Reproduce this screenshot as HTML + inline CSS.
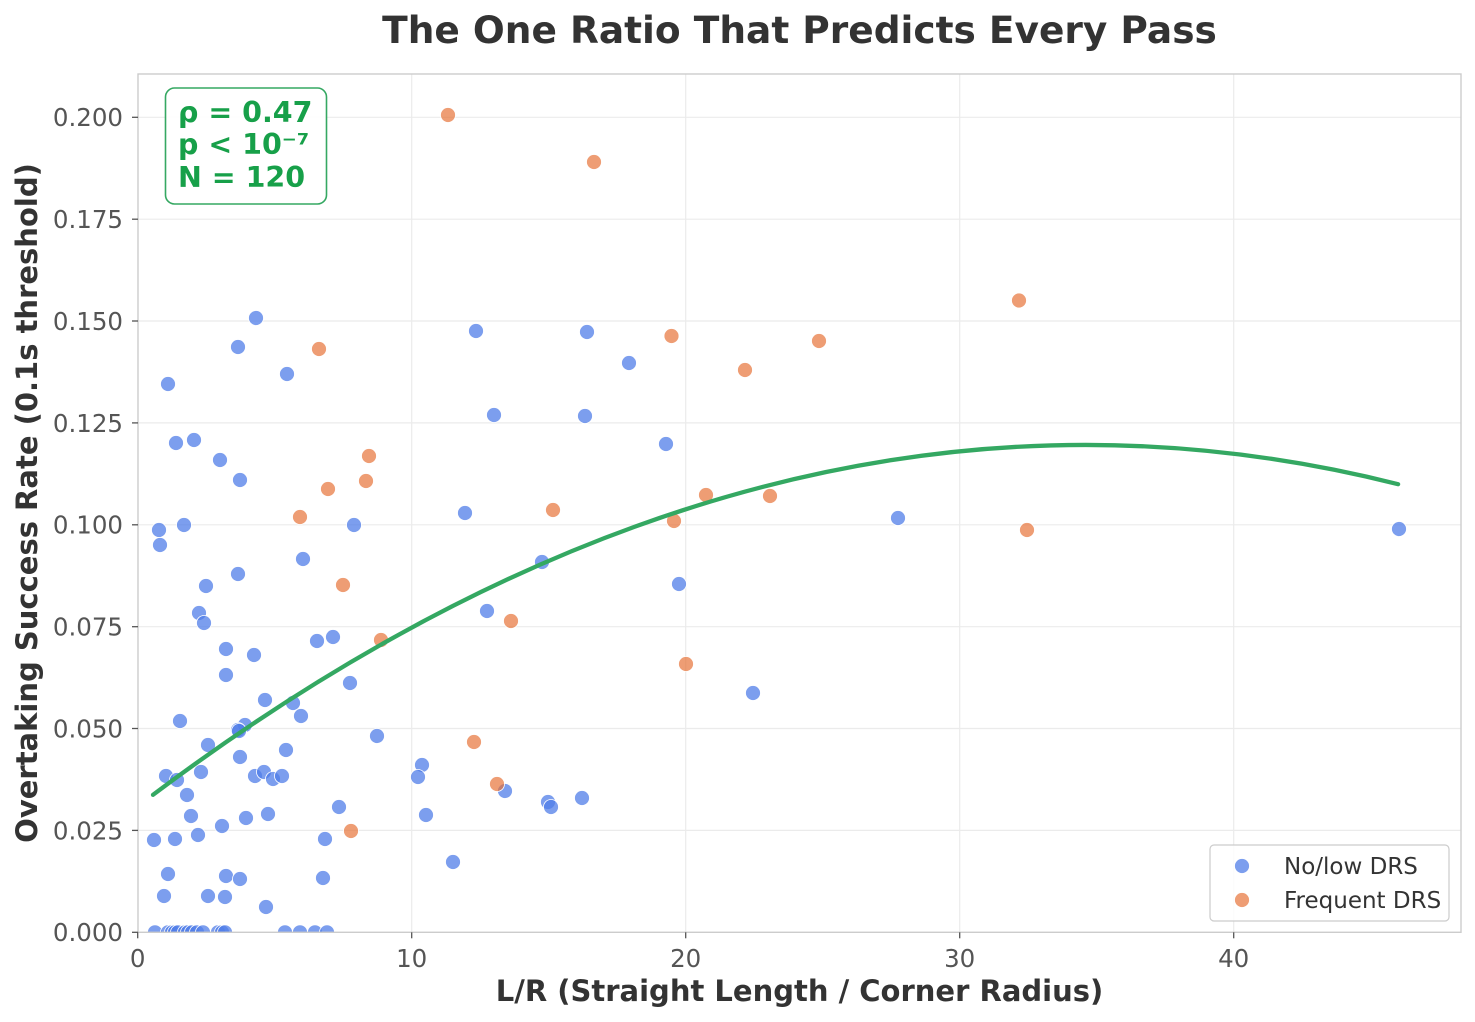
<!DOCTYPE html>
<html>
<head>
<meta charset="utf-8">
<style>
  html, body { margin: 0; padding: 0; background: #ffffff; }
  svg { display: block; }
  text { font-family: "DejaVu Sans", "Liberation Sans", sans-serif; }
</style>
</head>
<body>
<svg width="1475" height="1022" viewBox="0 0 1475 1022" xmlns="http://www.w3.org/2000/svg">
  <defs>
    <clipPath id="ax">
      <rect x="138" y="74" width="1323" height="858.3"/>
    </clipPath>
  </defs>
  <rect x="0" y="0" width="1475" height="1022" fill="#ffffff"/>

  <!-- Title -->
  <text x="799.5" y="43" text-anchor="middle" font-size="37.5" font-weight="bold" fill="#333333">The One Ratio That Predicts Every Pass</text>

  <!-- Grid -->
  <g stroke="#ebebeb" stroke-width="1.2">
    <line x1="411.7" y1="74" x2="411.7" y2="932.3"/>
    <line x1="685.7" y1="74" x2="685.7" y2="932.3"/>
    <line x1="959.7" y1="74" x2="959.7" y2="932.3"/>
    <line x1="1233.7" y1="74" x2="1233.7" y2="932.3"/>
    <line x1="138" y1="117.3" x2="1461" y2="117.3"/>
    <line x1="138" y1="219.2" x2="1461" y2="219.2"/>
    <line x1="138" y1="321.0" x2="1461" y2="321.0"/>
    <line x1="138" y1="422.9" x2="1461" y2="422.9"/>
    <line x1="138" y1="524.8" x2="1461" y2="524.8"/>
    <line x1="138" y1="626.7" x2="1461" y2="626.7"/>
    <line x1="138" y1="728.5" x2="1461" y2="728.5"/>
    <line x1="138" y1="830.4" x2="1461" y2="830.4"/>
  </g>

  <!-- Points -->
  <g clip-path="url(#ax)" stroke="#ffffff" stroke-width="0.8">
    <g fill="rgb(80,125,232)" fill-opacity="0.75">
      <circle cx="256" cy="318" r="7.5"/><circle cx="238" cy="347" r="7.5"/><circle cx="287" cy="374" r="7.5"/>
      <circle cx="168" cy="384" r="7.5"/><circle cx="176" cy="443" r="7.5"/><circle cx="194" cy="440" r="7.5"/>
      <circle cx="220" cy="460" r="7.5"/><circle cx="240" cy="480" r="7.5"/><circle cx="354" cy="525" r="7.5"/>
      <circle cx="159" cy="530" r="7.5"/><circle cx="184" cy="525" r="7.5"/><circle cx="160" cy="545" r="7.5"/>
      <circle cx="303" cy="559" r="7.5"/><circle cx="206" cy="586" r="7.5"/><circle cx="238" cy="574" r="7.5"/>
      <circle cx="199" cy="613" r="7.5"/><circle cx="204" cy="623" r="7.5"/><circle cx="226" cy="649" r="7.5"/>
      <circle cx="254" cy="655" r="7.5"/><circle cx="226" cy="675" r="7.5"/><circle cx="317" cy="641" r="7.5"/>
      <circle cx="333" cy="637" r="7.5"/><circle cx="350" cy="683" r="7.5"/><circle cx="180" cy="721" r="7.5"/>
      <circle cx="265" cy="700" r="7.5"/><circle cx="293" cy="703" r="7.5"/><circle cx="301" cy="716" r="7.5"/>
      <circle cx="245" cy="725" r="7.5"/><circle cx="238" cy="730" r="7.5"/><circle cx="239" cy="731" r="7.5"/>
      <circle cx="377" cy="736" r="7.5"/><circle cx="208" cy="745" r="7.5"/><circle cx="286" cy="750" r="7.5"/>
      <circle cx="240" cy="757" r="7.5"/><circle cx="166" cy="776" r="7.5"/><circle cx="177" cy="780" r="7.5"/>
      <circle cx="201" cy="772" r="7.5"/><circle cx="255" cy="776" r="7.5"/><circle cx="264" cy="772" r="7.5"/>
      <circle cx="273" cy="779" r="7.5"/><circle cx="282" cy="776" r="7.5"/><circle cx="187" cy="795" r="7.5"/>
      <circle cx="191" cy="816" r="7.5"/><circle cx="222" cy="826" r="7.5"/><circle cx="246" cy="818" r="7.5"/>
      <circle cx="268" cy="814" r="7.5"/><circle cx="339" cy="807" r="7.5"/><circle cx="154" cy="840" r="7.5"/>
      <circle cx="175" cy="839" r="7.5"/><circle cx="198" cy="835" r="7.5"/><circle cx="325" cy="839" r="7.5"/>
      <circle cx="168" cy="874" r="7.5"/><circle cx="226" cy="876" r="7.5"/><circle cx="240" cy="879" r="7.5"/>
      <circle cx="323" cy="878" r="7.5"/><circle cx="164" cy="896" r="7.5"/><circle cx="208" cy="896" r="7.5"/>
      <circle cx="225" cy="897" r="7.5"/><circle cx="266" cy="907" r="7.5"/>
      <circle cx="155" cy="932.3" r="7.5"/><circle cx="168" cy="932.3" r="7.5"/><circle cx="172" cy="932.3" r="7.5"/>
      <circle cx="175" cy="932.3" r="7.5"/><circle cx="178" cy="932.3" r="7.5"/><circle cx="185" cy="932.3" r="7.5"/>
      <circle cx="188" cy="932.3" r="7.5"/><circle cx="192" cy="932.3" r="7.5"/><circle cx="197" cy="932.3" r="7.5"/>
      <circle cx="203" cy="932.3" r="7.5"/><circle cx="218" cy="932.3" r="7.5"/><circle cx="222" cy="932.3" r="7.5"/>
      <circle cx="225" cy="932.3" r="7.5"/><circle cx="285" cy="932.3" r="7.5"/><circle cx="300" cy="932.3" r="7.5"/>
      <circle cx="315" cy="932.3" r="7.5"/><circle cx="327" cy="932.3" r="7.5"/>
      <circle cx="476" cy="331" r="7.5"/><circle cx="587" cy="332" r="7.5"/><circle cx="629" cy="363" r="7.5"/>
      <circle cx="494" cy="415" r="7.5"/><circle cx="585" cy="416" r="7.5"/><circle cx="666" cy="444" r="7.5"/>
      <circle cx="465" cy="513" r="7.5"/><circle cx="542" cy="562" r="7.5"/><circle cx="679" cy="584" r="7.5"/>
      <circle cx="487" cy="611" r="7.5"/><circle cx="753" cy="693" r="7.5"/><circle cx="422" cy="765" r="7.5"/>
      <circle cx="418" cy="777" r="7.5"/><circle cx="505" cy="791" r="7.5"/><circle cx="548" cy="802" r="7.5"/>
      <circle cx="551" cy="807" r="7.5"/><circle cx="582" cy="798" r="7.5"/><circle cx="426" cy="815" r="7.5"/>
      <circle cx="453" cy="862" r="7.5"/>
      <circle cx="898" cy="518" r="7.5"/><circle cx="1399" cy="529" r="7.5"/>
    </g>
    <g fill="rgb(230,110,50)" fill-opacity="0.68">
      <circle cx="448" cy="115" r="7.5"/><circle cx="594" cy="162" r="7.5"/><circle cx="1019" cy="300.5" r="7.5"/>
      <circle cx="319" cy="349" r="7.5"/><circle cx="671.5" cy="336" r="7.5"/><circle cx="819" cy="341" r="7.5"/>
      <circle cx="745" cy="370" r="7.5"/><circle cx="369" cy="456" r="7.5"/><circle cx="366" cy="481" r="7.5"/>
      <circle cx="328" cy="489" r="7.5"/><circle cx="300" cy="517" r="7.5"/><circle cx="706" cy="495" r="7.5"/>
      <circle cx="770" cy="496" r="7.5"/><circle cx="553" cy="510" r="7.5"/><circle cx="674" cy="521" r="7.5"/>
      <circle cx="1027" cy="530" r="7.5"/><circle cx="343" cy="585" r="7.5"/><circle cx="511" cy="621" r="7.5"/>
      <circle cx="381" cy="640" r="7.5"/><circle cx="686" cy="664" r="7.5"/><circle cx="474" cy="742" r="7.5"/>
      <circle cx="497" cy="784" r="7.5"/><circle cx="351" cy="831" r="7.5"/>
    </g>
  </g>

  <!-- Fit curve -->
  <path d="M153,794.8 Q775.6,327.7 1398.1,484.2" fill="none" stroke="#34a862" stroke-width="4.3" stroke-linecap="round"/>

  <!-- Spines -->
  <rect x="138" y="74" width="1323" height="858.3" fill="none" stroke="#cccccc" stroke-width="1.4"/>

  <!-- Ticks -->
  <g stroke="#555555" stroke-width="1.3">
    <line x1="137.7" y1="932.3" x2="137.7" y2="938.3"/>
    <line x1="411.7" y1="932.3" x2="411.7" y2="938.3"/>
    <line x1="685.7" y1="932.3" x2="685.7" y2="938.3"/>
    <line x1="959.7" y1="932.3" x2="959.7" y2="938.3"/>
    <line x1="1233.7" y1="932.3" x2="1233.7" y2="938.3"/>
    <line x1="132" y1="117.3" x2="138" y2="117.3"/>
    <line x1="132" y1="219.2" x2="138" y2="219.2"/>
    <line x1="132" y1="321.0" x2="138" y2="321.0"/>
    <line x1="132" y1="422.9" x2="138" y2="422.9"/>
    <line x1="132" y1="524.8" x2="138" y2="524.8"/>
    <line x1="132" y1="626.7" x2="138" y2="626.7"/>
    <line x1="132" y1="728.5" x2="138" y2="728.5"/>
    <line x1="132" y1="830.4" x2="138" y2="830.4"/>
    <line x1="132" y1="932.3" x2="138" y2="932.3"/>
  </g>

  <!-- Tick labels -->
  <g font-size="24.5" fill="#555555">
    <g text-anchor="middle">
      <text x="137.7" y="967">0</text>
      <text x="411.7" y="967">10</text>
      <text x="685.7" y="967">20</text>
      <text x="959.7" y="967">30</text>
      <text x="1233.7" y="967">40</text>
    </g>
    <g text-anchor="end">
      <text x="123" y="126.2">0.200</text>
      <text x="123" y="228.1">0.175</text>
      <text x="123" y="329.9">0.150</text>
      <text x="123" y="431.8">0.125</text>
      <text x="123" y="533.7">0.100</text>
      <text x="123" y="635.6">0.075</text>
      <text x="123" y="737.4">0.050</text>
      <text x="123" y="839.3">0.025</text>
      <text x="123" y="941.2">0.000</text>
    </g>
  </g>

  <!-- Axis labels -->
  <text x="799.5" y="1001" text-anchor="middle" font-size="29" font-weight="bold" fill="#333333">L/R (Straight Length / Corner Radius)</text>
  <text transform="translate(37,503) rotate(-90)" text-anchor="middle" font-size="29" font-weight="bold" fill="#333333">Overtaking Success Rate (0.1s threshold)</text>

  <!-- Stats box -->
  <rect x="165.5" y="88" width="161" height="116" rx="9" fill="#ffffff" fill-opacity="0.9" stroke="#35a862" stroke-width="1.6"/>
  <g font-size="28.5" font-weight="bold" fill="#17a049">
    <text x="178" y="122">ρ = 0.47</text>
    <text x="178" y="154">p &lt; 10⁻⁷</text>
    <text x="178" y="187">N = 120</text>
  </g>

  <!-- Legend -->
  <rect x="1210" y="845" width="239" height="76" rx="4" fill="#ffffff" fill-opacity="0.85" stroke="#cccccc" stroke-width="1.2"/>
  <circle cx="1242" cy="866" r="7.5" fill="rgb(80,125,232)" fill-opacity="0.75" stroke="#ffffff" stroke-width="0.8"/>
  <circle cx="1242" cy="900" r="7.5" fill="rgb(230,110,50)" fill-opacity="0.68" stroke="#ffffff" stroke-width="0.8"/>
  <g font-size="23" fill="#333333">
    <text x="1284" y="874">No/low DRS</text>
    <text x="1284" y="908">Frequent DRS</text>
  </g>
</svg>
</body>
</html>
